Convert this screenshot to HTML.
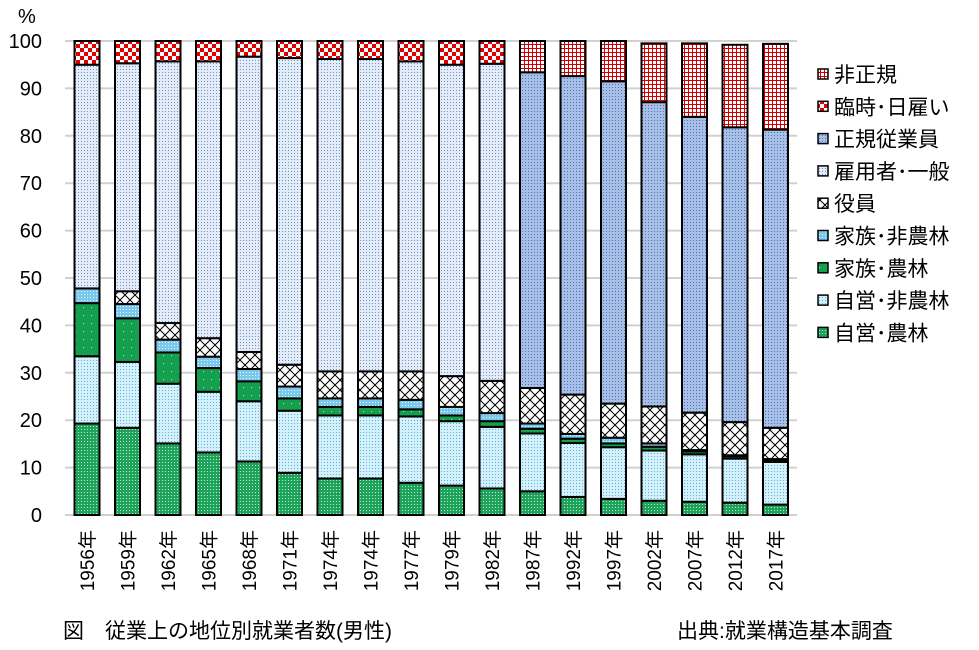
<!DOCTYPE html>
<html><head><meta charset="utf-8"><style>
body{margin:0;background:#fff;}
svg{display:block;font-family:"Liberation Sans","Noto Sans CJK JP",sans-serif;}
</style></head><body>
<svg id="chart" width="979" height="650" viewBox="0 0 979 650" xmlns="http://www.w3.org/2000/svg">
<defs>
<pattern id="p0" width="3" height="3" patternUnits="userSpaceOnUse"><rect width="3" height="3" fill="#1ea35a"/><rect x="0" y="0" width="1" height="1" fill="#bfe8cf"/></pattern>
<pattern id="p1" width="3" height="3" patternUnits="userSpaceOnUse"><rect width="3" height="3" fill="#d4f0fa"/><rect x="0" y="0" width="1" height="1" fill="#5ab4d8"/></pattern>
<pattern id="p2" width="8" height="8" patternUnits="userSpaceOnUse"><rect width="8" height="8" fill="#14a04e"/><rect x="3" y="3" width="1" height="1" fill="#b0e8c4"/></pattern>
<pattern id="p3" width="3" height="3" patternUnits="userSpaceOnUse"><rect width="3" height="3" fill="#79c9ec"/><rect x="0" y="0" width="1" height="1" fill="#e6f6fc"/></pattern>
<pattern id="p4" width="10" height="10" patternUnits="userSpaceOnUse"><rect width="10" height="10" fill="#fff"/><path d="M0 0L10 10M10 0L0 10" stroke="#000" stroke-width="1"/></pattern>
<pattern id="p5" width="3" height="3" patternUnits="userSpaceOnUse"><rect width="3" height="3" fill="#e4ecf8"/><rect x="0" y="0" width="1" height="1" fill="#7090cc"/></pattern>
<pattern id="p6" width="3" height="3" patternUnits="userSpaceOnUse"><rect width="3" height="3" fill="#a8bfe6"/><rect x="0" y="0" width="1" height="1" fill="#4d72c0"/></pattern>
<pattern id="p7" width="8" height="8" patternUnits="userSpaceOnUse"><rect width="8" height="8" fill="#fff"/><rect width="4" height="4" fill="#e00000"/><rect x="4" y="4" width="4" height="4" fill="#e00000"/></pattern>
<pattern id="p8" width="4" height="4" patternUnits="userSpaceOnUse"><rect width="4" height="4" fill="#fff"/><path d="M0 0.5H4M0.5 0V4" stroke="#d00000" stroke-width="1"/></pattern>
</defs>
<g id="grid"></g>
<g id="bars"></g>
<g id="xlabels"></g>
<g id="legend"></g>
<text x="18" y="23" font-size="20">%</text>
<text x="63" y="638" font-size="21">図　従業上の地位別就業者数(男性)</text>
<text x="677" y="638" font-size="21">出典:就業構造基本調査</text>
</svg>
<script>
const categories=["1956年","1959年","1962年","1965年","1968年","1971年","1974年","1974年","1977年","1979年","1982年","1987年","1992年","1997年","2002年","2007年","2012年","2017年"];
const seriesNames=["自営･農林","自営･非農林","家族･農林","家族･非農林","役員","雇用者･一般","正規従業員","臨時･日雇い","非正規"];
const jieiNorin=[19.3,18.4,15.1,13.2,11.3,8.9,7.7,7.7,6.8,6.2,5.6,5.0,3.8,3.4,3.0,2.8,2.6,2.2];
const jieiHiNorin=[14.2,13.9,12.6,12.8,12.7,13.1,13.3,13.3,14.0,13.6,13.0,12.2,11.4,10.9,10.6,10.0,9.3,9.0];
const kazokuNorin=[11.2,9.2,6.6,5.0,4.2,2.6,1.8,1.8,1.5,1.2,1.2,1.0,0.9,0.8,0.8,0.6,0.5,0.4];
const kazokuHiNorin=[3.1,3.0,2.7,2.4,2.6,2.5,1.8,1.8,2.0,1.8,1.7,1.1,1.0,1.2,0.7,0.3,0.2,0.2];
const yakuin=[0,2.7,3.5,3.9,3.6,4.6,5.7,5.7,6.0,6.5,6.8,7.5,8.3,7.2,7.8,7.9,7.0,6.6];
const koyoIppan=[47.2,48.1,55.2,58.4,62.3,64.7,65.9,65.9,65.4,65.7,66.9,0,0,0,0,0,0,0];
const seiki=[0,0,0,0,0,0,0,0,0,0,0,66.6,67.2,68.0,64.2,62.4,62.2,62.9];
const rinji=[5.0,4.7,4.3,4.3,3.3,3.6,3.8,3.8,4.3,5.0,4.8,0,0,0,0,0,0,0];
const hiseiki=[0,0,0,0,0,0,0,0,0,0,0,6.6,7.4,8.5,12.4,15.5,17.4,18.1];
const yTicks=[0,10,20,30,40,50,60,70,80,90,100];
const series=[jieiNorin,jieiHiNorin,kazokuNorin,kazokuHiNorin,yakuin,koyoIppan,seiki,rinji,hiseiki];
const seriesKeys=["self-agri","self-nonagri","family-agri","family-nonagri","executive","employee-general","regular-employee","temporary","non-regular"];
const NS="http://www.w3.org/2000/svg";
const plotL=65,plotR=797,y0=515,y100=41;
function yScale(v){return y0-(y0-y100)*v/100;}
const step=40.5;
function xCenter(i){return 87+step*i;}
function mk(tag,attrs,parent){const e=document.createElementNS(NS,tag);for(const k in attrs)e.setAttribute(k,attrs[k]);parent.appendChild(e);return e;}
const grid=document.getElementById('grid');
yTicks.forEach(t=>{
  const l=mk('line',{x1:plotL,x2:plotR,y1:yScale(t),y2:yScale(t),stroke:'#d0d0d0','stroke-width':2},grid);
  
  
  const tx=mk('text',{x:42,y:yScale(t)+7,'text-anchor':'end','font-size':20},grid);
  tx.textContent=t;
  
  
});
const bars=document.getElementById('bars');
const bw=25;
categories.forEach((c,i)=>{
  let cum=0;
  series.forEach((s,k)=>{
    const v=s[i]; if(!v) return;
    const yt=yScale(cum+v),yb=yScale(cum);
    const r=mk('rect',{x:xCenter(i)-bw/2,y:yt,width:bw,height:yb-yt,fill:'url(#p'+k+')',stroke:'#000','stroke-width':2},bars);
    
    
    cum+=v;
  });
  const lb=mk('text',{transform:'translate('+(xCenter(i)+7)+',530) rotate(-90)','text-anchor':'end','font-size':19},document.getElementById('xlabels'));
  lb.textContent=c;
  
  
});
const lg=document.getElementById('legend');
for(let k=8,row=0;k>=0;k--,row++){
  const y=74+row*32.3;
  const g=mk('g',{},lg);
  
  
  mk('rect',{x:818,y:y-5,width:10,height:10,fill:'url(#p'+k+')',stroke:'#000','stroke-width':1.5},g);
  const t=mk('text',{x:834,y:y+8,'font-size':21},g);
  t.textContent=seriesNames[k];
}
</script>
</body></html>
